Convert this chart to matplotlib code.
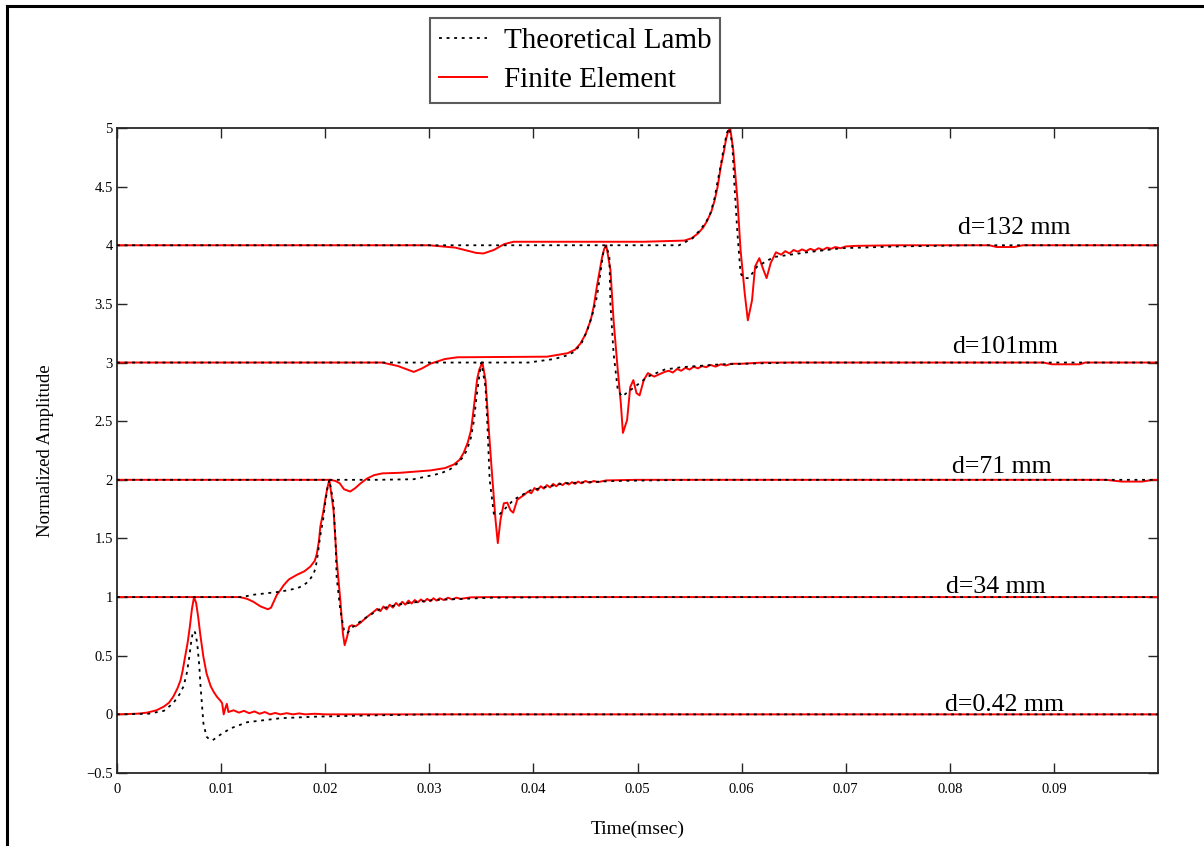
import matplotlib
matplotlib.use("Agg")
import matplotlib.pyplot as plt
from matplotlib.lines import Line2D

plt.rcParams["font.family"] = ["Liberation Serif", "DejaVu Serif"]

# time axis ticks (msec) and amplitude ticks
x_ticks = [0, 0.01, 0.02, 0.03, 0.04, 0.05, 0.06, 0.07, 0.08, 0.09]
x_tick_labels = ["0", "0.01", "0.02", "0.03", "0.04", "0.05", "0.06", "0.07", "0.08", "0.09"]
y_ticks = [-0.5, 0, 0.5, 1, 1.5, 2, 2.5, 3, 3.5, 4, 4.5, 5]
y_tick_labels = ["\u22120.5", "0", "0.5", "1", "1.5", "2", "2.5", "3", "3.5", "4", "4.5", "5"]

# d = 0.42 mm
lamb_042_t = [0, 0.003, 0.0045, 0.0054, 0.006, 0.0064, 0.0067, 0.0069, 0.0071, 0.0073,
              0.0075, 0.0077, 0.0079, 0.008, 0.0083, 0.0086, 0.0089, 0.0092, 0.0099, 0.0109,
              0.0125, 0.0157, 0.0189, 0.0238, 0.03, 0.1]
lamb_042_y = [0, 0.005, 0.03, 0.095, 0.17, 0.24, 0.35, 0.46, 0.6, 0.71,
              0.7, 0.61, 0.42, 0.27, -0.076, -0.19, -0.215, -0.22, -0.175, -0.12,
              -0.067, -0.033, -0.02, -0.01, 0.0, 0.0]
fe_042_t = [0, 0.002, 0.0029, 0.0038, 0.0045, 0.005, 0.0054, 0.0058, 0.0061, 0.0063,
            0.0065, 0.0068, 0.007, 0.0072, 0.0074, 0.0076, 0.0078, 0.008, 0.0083, 0.0086,
            0.009, 0.0093, 0.0096, 0.0099, 0.0101, 0.01025, 0.0104, 0.01055, 0.0107, 0.0112,
            0.0117, 0.0122, 0.0127, 0.0132, 0.0137, 0.0142, 0.0147, 0.0152, 0.0157, 0.0163,
            0.0169, 0.0175, 0.0181, 0.019, 0.02, 0.1]
fe_042_y = [0, 0.006, 0.015, 0.035, 0.066, 0.1, 0.15, 0.22, 0.29, 0.37,
            0.47, 0.62, 0.75, 0.9, 1.0, 0.95, 0.83, 0.68, 0.49, 0.35,
            0.24, 0.19, 0.15, 0.12, 0.095, 0.0, 0.05, 0.09, 0.02, 0.035,
            0.015, 0.03, 0.01, 0.025, 0.005, 0.02, 0.0, 0.012, 0.0, 0.01,
            0.0, 0.008, 0.0, 0.005, 0.0, 0.0]

# d = 34 mm
lamb_34_t = [0, 0.012, 0.0131, 0.0157, 0.0173, 0.0178, 0.0182, 0.0186, 0.0189, 0.0191,
             0.0193, 0.0195, 0.0198, 0.02, 0.0202, 0.0204, 0.0208, 0.021, 0.0211, 0.02145,
             0.0218, 0.0221, 0.0227, 0.024, 0.0253, 0.0272, 0.0304, 0.036, 0.045, 0.1]
lamb_34_y = [1, 1.0, 1.02, 1.046, 1.075, 1.095, 1.12, 1.16, 1.2, 1.26,
             1.37, 1.51, 1.66, 1.8, 1.92, 2.0, 1.8, 1.46, 1.17, 0.89,
             0.72, 0.69, 0.75, 0.83, 0.9, 0.94, 0.975, 0.995, 1.0, 1.0]
fe_34_t = [0, 0.0118, 0.0125, 0.0131, 0.0138, 0.0145, 0.0148, 0.015, 0.01536, 0.0157,
           0.016, 0.0165, 0.01728, 0.018, 0.01857, 0.019, 0.0192, 0.0194, 0.01953, 0.0198,
           0.02, 0.0202, 0.0204, 0.0208, 0.0211, 0.02145, 0.0217, 0.02187, 0.0221, 0.02232,
           0.02257, 0.0229, 0.02337, 0.024, 0.02466, 0.025, 0.0253, 0.0256, 0.0259, 0.0262,
           0.0265, 0.0268, 0.0271, 0.0274, 0.0277, 0.028, 0.0283, 0.0286, 0.0289, 0.0292,
           0.0295, 0.0298, 0.0301, 0.0304, 0.0307, 0.031, 0.0314, 0.0318, 0.0322, 0.0326,
           0.033, 0.034, 0.036, 0.1]
fe_34_y = [1, 1.0, 0.985, 0.96, 0.92, 0.896, 0.91, 0.95, 1.02, 1.06,
           1.1, 1.15, 1.19, 1.22, 1.26, 1.31, 1.37, 1.48, 1.6, 1.72,
           1.83, 1.93, 2.0, 1.74, 1.32, 0.975, 0.69, 0.59, 0.66, 0.75,
           0.76, 0.75, 0.78, 0.83, 0.875, 0.9, 0.88, 0.92, 0.895, 0.935,
           0.91, 0.95, 0.925, 0.96, 0.935, 0.97, 0.945, 0.975, 0.955, 0.98,
           0.96, 0.985, 0.965, 0.99, 0.97, 0.99, 0.975, 0.995, 0.98, 0.995,
           0.985, 0.998, 1.0, 1.0]

# d = 71 mm
lamb_71_t = [0, 0.025, 0.0285, 0.0311, 0.032, 0.0327, 0.0332, 0.0336, 0.034, 0.0343,
             0.0345, 0.03475, 0.0349, 0.035, 0.0354, 0.03556, 0.0358, 0.0362, 0.0368, 0.0381,
             0.0397, 0.0429, 0.0477, 0.055, 0.1]
lamb_71_y = [2, 2.0, 2.005, 2.055, 2.09, 2.14, 2.19, 2.25, 2.36, 2.51,
             2.68, 2.85, 2.95, 3.0, 2.79, 2.51, 2.0, 1.71, 1.71, 1.83,
             1.91, 1.97, 1.99, 2.0, 2.0]
fe_71_t = [0, 0.0205, 0.021, 0.0214, 0.0218, 0.0224, 0.0229, 0.0234, 0.024, 0.0247,
           0.0255, 0.0272, 0.0301, 0.0315, 0.03235, 0.0329, 0.0333, 0.0337, 0.034, 0.0342,
           0.03444, 0.0346, 0.0348, 0.0351, 0.0354, 0.0357, 0.036, 0.03636, 0.03658, 0.03684,
           0.03716, 0.03749, 0.0378, 0.03806, 0.03845, 0.03908, 0.0395, 0.0398, 0.0401, 0.0404,
           0.0407, 0.041, 0.0413, 0.0416, 0.0419, 0.0422, 0.0425, 0.0428, 0.0431, 0.0434,
           0.0437, 0.044, 0.0443, 0.0446, 0.045, 0.0454, 0.0458, 0.0462, 0.047, 0.05,
           0.095, 0.0965, 0.0985, 0.0995, 0.1]
fe_71_y = [2, 2.0, 1.99, 1.97, 1.92, 1.9, 1.93, 1.97, 2.01, 2.04,
           2.055, 2.06, 2.08, 2.1, 2.13, 2.17, 2.23, 2.32, 2.42, 2.56,
           2.74, 2.86, 2.94, 3.0, 2.85, 2.45, 2.08, 1.66, 1.46, 1.66,
           1.8, 1.805, 1.74, 1.72, 1.83, 1.87, 1.9, 1.885, 1.93, 1.91,
           1.945, 1.925, 1.955, 1.935, 1.965, 1.945, 1.97, 1.955, 1.975, 1.96,
           1.98, 1.965, 1.985, 1.97, 1.99, 1.975, 1.99, 1.98, 1.995, 2.0,
           2.0, 1.985, 1.985, 2.0, 2.0]

# d = 101 mm
lamb_101_t = [0, 0.0395, 0.042, 0.0432, 0.0439, 0.0446, 0.0452, 0.0457, 0.0461, 0.0464,
              0.0467, 0.047, 0.0473, 0.0474, 0.0477, 0.0481, 0.0485, 0.0497, 0.051, 0.0526,
              0.0542, 0.058, 0.065, 0.1]
lamb_101_y = [3, 3.0, 3.03, 3.06, 3.09, 3.16, 3.28, 3.42, 3.56, 3.74,
              3.93, 4.0, 3.9, 3.5, 3.08, 2.77, 2.71, 2.79, 2.88, 2.94,
              2.96, 2.985, 3.0, 3.0]
fe_101_t = [0, 0.0255, 0.027, 0.0285, 0.0293, 0.0301, 0.0315, 0.0327, 0.0413, 0.0433,
            0.044, 0.0445, 0.045, 0.0455, 0.0458, 0.0461, 0.0464, 0.0466, 0.0468, 0.047,
            0.0474, 0.0477, 0.0481, 0.0484, 0.0486, 0.049, 0.0493, 0.0496, 0.0499, 0.0502,
            0.0506, 0.051, 0.0516, 0.0526, 0.053, 0.0534, 0.0538, 0.0542, 0.0546, 0.055,
            0.0554, 0.0558, 0.0562, 0.0566, 0.057, 0.0575, 0.058, 0.0585, 0.059, 0.06,
            0.062, 0.089, 0.0898, 0.0925, 0.093, 0.1]
fe_101_y = [3, 3.0, 2.97, 2.92, 2.95, 2.99, 3.03, 3.045, 3.05, 3.08,
            3.11, 3.16, 3.24, 3.36, 3.48, 3.65, 3.8, 3.9, 3.97, 4.0,
            3.79, 3.36, 2.94, 2.65, 2.4, 2.51, 2.79, 2.85, 2.74, 2.72,
            2.85, 2.91, 2.88, 2.92, 2.93, 2.915, 2.945, 2.93, 2.955, 2.94,
            2.965, 2.95, 2.97, 2.96, 2.98, 2.965, 2.985, 2.975, 2.99, 2.99,
            3.0, 3.0, 2.985, 2.985, 3.0, 3.0]

# d = 132 mm
lamb_132_t = [0, 0.054, 0.0553, 0.056, 0.0566, 0.057, 0.0574, 0.05766, 0.058, 0.0583,
              0.0586, 0.0588, 0.0591, 0.0593, 0.0596, 0.0599, 0.0602, 0.0607, 0.0615, 0.0631,
              0.0663, 0.0696, 0.075, 0.082, 0.1]
lamb_132_y = [4, 4.0, 4.06, 4.13, 4.2, 4.27, 4.4, 4.53, 4.68, 4.84,
              4.96, 5.0, 4.87, 4.53, 4.1, 3.76, 3.72, 3.72, 3.82, 3.9,
              3.94, 3.975, 3.99, 4.0, 4.0]
fe_132_t = [0, 0.03, 0.0325, 0.0345, 0.0352, 0.0362, 0.0372, 0.0381, 0.0466, 0.0506,
            0.0545, 0.0552, 0.0558, 0.0563, 0.0567, 0.0571, 0.0574, 0.0577, 0.058, 0.0583,
            0.0585, 0.0587, 0.0589, 0.0592, 0.0596, 0.0599, 0.0603, 0.0606, 0.061, 0.0613,
            0.0617, 0.0621, 0.0624, 0.0628, 0.0633, 0.0638, 0.0642, 0.0646, 0.065, 0.0654,
            0.0658, 0.0662, 0.0666, 0.067, 0.0674, 0.0678, 0.0682, 0.0686, 0.069, 0.0695,
            0.07, 0.071, 0.075, 0.0838, 0.0845, 0.0862, 0.087, 0.1]
fe_132_y = [4, 4.0, 3.98, 3.935, 3.93, 3.96, 4.01, 4.03, 4.03, 4.03,
            4.04, 4.06, 4.1, 4.15, 4.21, 4.29, 4.38, 4.5, 4.67, 4.8,
            4.9, 4.97, 5.0, 4.81, 4.39, 3.96, 3.59, 3.36, 3.53, 3.82,
            3.89, 3.79, 3.72, 3.85, 3.94, 3.92, 3.95, 3.93, 3.96, 3.945,
            3.965, 3.95, 3.97, 3.955, 3.975, 3.96, 3.98, 3.97, 3.985, 3.975,
            3.99, 3.995, 4.0, 4.0, 3.985, 3.985, 4.0, 4.0]

traces = [
    (lamb_042_t, lamb_042_y, fe_042_t, fe_042_y),
    (lamb_34_t, lamb_34_y, fe_34_t, fe_34_y),
    (lamb_71_t, lamb_71_y, fe_71_t, fe_71_y),
    (lamb_101_t, lamb_101_y, fe_101_t, fe_101_y),
    (lamb_132_t, lamb_132_y, fe_132_t, fe_132_y),
]

# distance labels and where they sit (time, amplitude)
dist_labels = ["d=0.42 mm", "d=34 mm", "d=71 mm", "d=101mm", "d=132 mm"]
label_t = [0.0795, 0.0796, 0.0802, 0.0802, 0.0808]
label_y = [0.03, 1.035, 2.06, 3.08, 4.10]

fig = plt.figure(figsize=(12.04, 8.46), dpi=100)
ax = fig.add_axes([117 / 1204, 73 / 846, 1041 / 1204, 645 / 846])

dots = (0, (1.6, 2.6))
for lt, ly, ft, fy in traces:
    ax.plot(ft, fy, color="red", lw=1.4, zorder=2)
    ax.plot(lt, ly, color="black", lw=1.3, linestyle=dots, zorder=3)

for s, tx, ty in zip(dist_labels, label_t, label_y):
    ax.text(tx, ty, s, fontsize=18.5, va="baseline", ha="left")

ax.set_xlim(0, 0.1)
ax.set_ylim(-0.5, 5)
ax.set_xticks(x_ticks)
ax.set_xticklabels(x_tick_labels)
ax.set_yticks(y_ticks)
ax.set_yticklabels(y_tick_labels)
ax.tick_params(direction="in", length=7.5, width=1, top=True, right=True,
               labelsize=10.5, color="0.15")
ax.tick_params(axis="x", pad=7)
ax.tick_params(axis="y", pad=3)
for sp in ax.spines.values():
    sp.set_linewidth(1.3)
    sp.set_color("0.15")

ax.set_xlabel("Time(msec)", fontsize=14)
ax.set_ylabel("Normalized Amplitude", fontsize=13.5)
ax.xaxis.set_label_coords(0.5, -0.0744)
ax.yaxis.set_label_coords(-0.0605, 0.5)

handles = [
    Line2D([], [], color="black", lw=1.3, linestyle=dots),
    Line2D([], [], color="red", lw=1.4),
]
leg = fig.legend(handles, ["Theoretical Lamb", "Finite Element"],
                 loc="upper left", bbox_to_anchor=(430 / 1204, 1 - 18 / 846),
                 bbox_transform=fig.transFigure, fontsize=21, frameon=True,
                 fancybox=False, edgecolor="0.2", handlelength=1.65,
                 handletextpad=0.55, borderpad=0.32, labelspacing=0.45,
                 borderaxespad=0)
leg.get_frame().set_linewidth(1.5)

# outer frame (left and top edges)
fig.add_artist(Line2D([6.5 / 1204, 6.5 / 1204], [0, 1 - 6.5 / 846], color="black", lw=2.2,
                      transform=fig.transFigure))
fig.add_artist(Line2D([6.5 / 1204, 1], [1 - 6.5 / 846, 1 - 6.5 / 846], color="black", lw=2.2,
                      transform=fig.transFigure))

fig.savefig("out.png", dpi=100)
